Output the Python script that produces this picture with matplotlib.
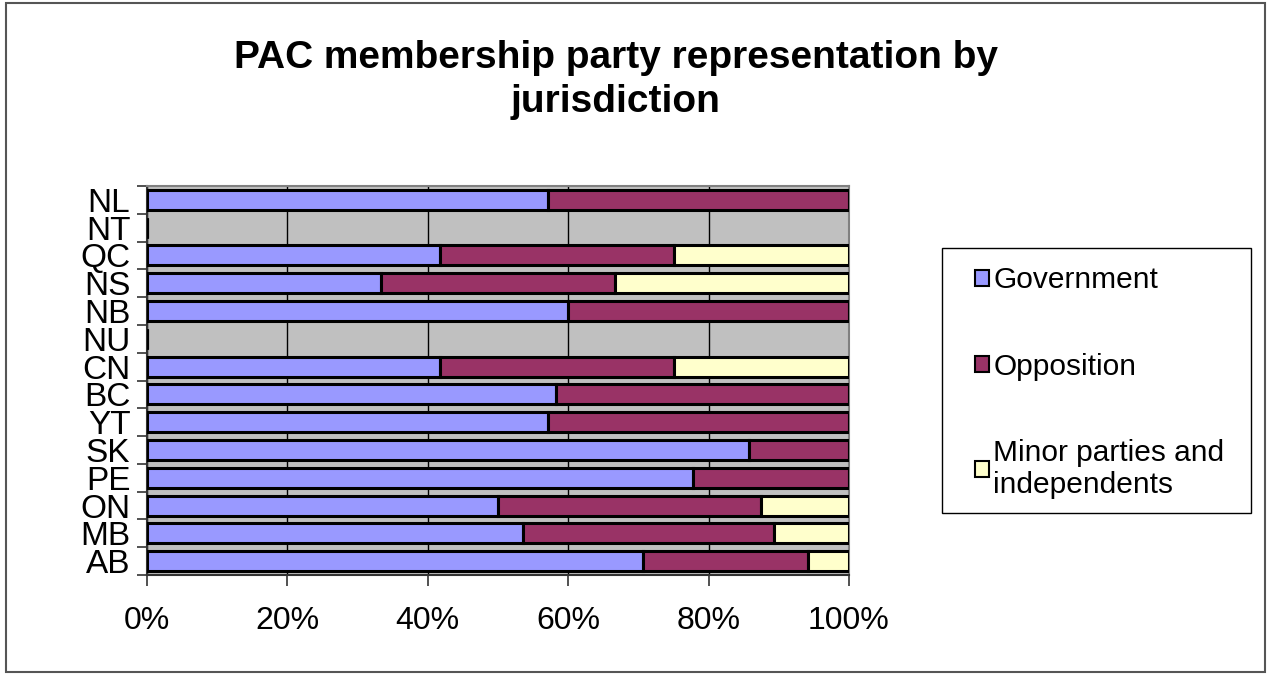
import matplotlib.pyplot as plt
import matplotlib.patches as mpatches
import numpy as np

# jurisdictions, bottom to top as drawn
jurisdictions = ['AB', 'MB', 'ON', 'PE', 'SK', 'YT', 'BC', 'CN', 'NU', 'NB', 'NS', 'QC', 'NT', 'NL']

# share of PAC members (%), per jurisdiction
government = [70.6, 53.6, 50.0, 77.8, 85.7, 57.1, 58.3, 41.7, 0, 60.0, 33.3, 41.7, 0, 57.1]
opposition = [23.5, 35.7, 37.5, 22.2, 14.3, 42.9, 41.7, 33.3, 0, 40.0, 33.3, 33.3, 0, 42.9]
minor = [5.9, 10.7, 12.5, 0, 0, 0, 0, 25.0, 0, 0, 33.4, 25.0, 0, 0]

series_names = ['Government', 'Opposition', 'Minor parties and\nindependents']
series_colors = ['#9999FF', '#993366', '#FFFFCC']

font = 'Liberation Sans'
W, H = 1271, 675


def fig_box(x0, y0, x1, y1):
    # pixel box (top-left origin) -> figure fraction rect
    return [x0 / W, 1 - y1 / H, (x1 - x0) / W, (y1 - y0) / H]


fig = plt.figure(figsize=(W / 100, H / 100), dpi=100)
ax = fig.add_axes(fig_box(147, 186, 849, 575))
ax.set_facecolor('#C0C0C0')

# outer chart frame
r = fig_box(6, 3, 1265, 672)
fig.patches.append(mpatches.Rectangle((r[0], r[1]), r[2], r[3], transform=fig.transFigure,
                                      fill=False, edgecolor='#555555', linewidth=1.5))
# legend frame
r = fig_box(942, 248, 1251, 513)
fig.patches.append(mpatches.Rectangle((r[0], r[1]), r[2], r[3], transform=fig.transFigure,
                                      fill=False, edgecolor='black', linewidth=1.0))

y = np.arange(len(jurisdictions))
left = np.zeros(len(jurisdictions))
handles = []
for vals, name, col in zip([government, opposition, minor], series_names, series_colors):
    vals = np.array(vals, dtype=float)
    bars = ax.barh(y, vals, left=left, height=0.72, color=col, edgecolor='black',
                   linewidth=2.2, label=name, zorder=3)
    left = left + vals
    handles.append(bars)

ax.set_xlim(0, 100)
ax.set_ylim(-0.5, len(jurisdictions) - 0.5)
ax.set_xticks([0, 20, 40, 60, 80, 100])
ax.set_xticklabels(['0%', '20%', '40%', '60%', '80%', '100%'], fontsize=23, family=font)
ax.xaxis.grid(True, color='black', linewidth=1, zorder=0)
ax.set_axisbelow(True)

ax.set_yticks(y)
ax.set_yticklabels(jurisdictions, fontsize=24, family=font)
ax.set_yticks(np.arange(len(jurisdictions) + 1) - 0.5, minor=True)
ax.tick_params(axis='y', which='major', length=0, pad=12)
ax.tick_params(axis='y', which='minor', length=7, width=1.2, color='#333333')
ax.tick_params(axis='x', length=8, width=1.2, color='#333333', pad=14)

for side in ['top', 'right']:
    ax.spines[side].set_color('#808080')
    ax.spines[side].set_linewidth(1.5)
for side in ['left', 'bottom']:
    ax.spines[side].set_color('#333333')
    ax.spines[side].set_linewidth(1.5)

fig.text(616 / W, 1 - 80 / H, 'PAC membership party representation by\njurisdiction',
         ha='center', va='center', fontsize=28, fontweight='bold', family=font,
         linespacing=1.32)

leg = fig.legend(handles=handles, labels=series_names, loc='upper left',
                 bbox_to_anchor=(959 / W, 1 - 250 / H),
                 prop={'family': font, 'size': 21.5}, frameon=False,
                 handlelength=0.45, handleheight=0.45,
                 handletextpad=0.15, labelspacing=1.95, borderpad=0.55, borderaxespad=0)
for h in leg.legend_handles:
    h.set_linewidth(1.5)

fig.savefig('out.png', dpi=100)
